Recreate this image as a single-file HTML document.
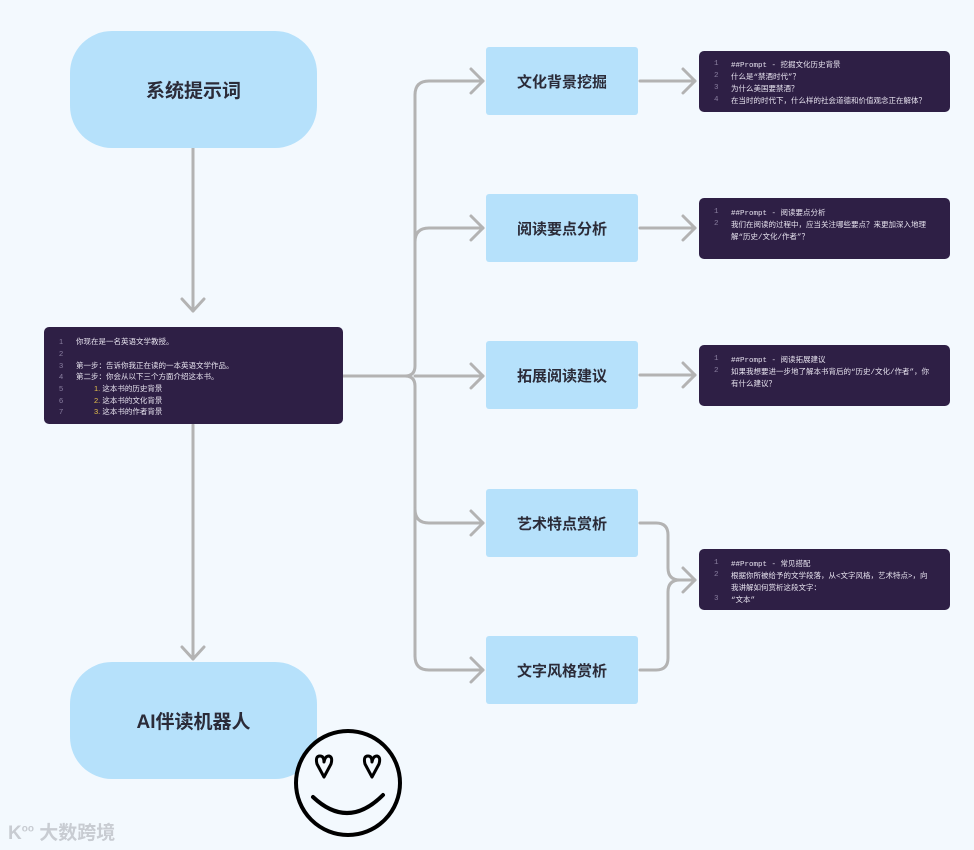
<!DOCTYPE html>
<html><head><meta charset="utf-8"><style>
body{margin:0;width:974px;height:850px;background:#f3f9fe;position:relative;overflow:hidden;font-family:"Liberation Sans","Noto Sans CJK SC",sans-serif}
.big{position:absolute;left:70px;width:247px;height:117px;background:#b6e1fb;border-radius:42px;display:flex;align-items:center;justify-content:center;font-weight:bold;font-size:19px;color:#2b2b38}
.mid{position:absolute;left:486px;width:152px;height:68px;background:#b6e1fb;border-radius:3px;display:flex;align-items:center;justify-content:center;font-weight:bold;font-size:15px;color:#2b2b38}
.code{position:absolute;background:#2e1f45;border-radius:5px;color:#e8e4f0;font-size:7.5px;box-sizing:border-box;font-family:"Liberation Mono","Noto Sans CJK SC",monospace}
.l{position:absolute;white-space:nowrap}
.n{position:absolute;color:#8a7fa0;white-space:nowrap}
.y{color:#e6c14a}
</style></head><body>
<svg width="974" height="850" style="position:absolute;left:0;top:0">
<g fill="none" stroke="#b3b3b3" stroke-width="3" stroke-linecap="round" stroke-linejoin="round">
<line x1="193" y1="148" x2="193" y2="311"/><polyline points="182,299 193,311 204,299"/>
<line x1="193" y1="425" x2="193" y2="659"/><polyline points="182,647 193,659 204,647"/>
<line x1="343" y1="376" x2="405" y2="376"/>
<path d="M415,95 Q415,81 429,81 L483,81"/>
<path d="M415,242 Q415,228 429,228 L483,228"/>
<path d="M405,376 Q415,376 415,366 L415,95 M405,376 Q415,376 415,386 L415,656"/>
<path d="M415,376 L483,376"/>
<path d="M415,509 Q415,523 429,523 L483,523"/>
<path d="M415,656 Q415,670 429,670 L483,670"/>
<polyline points="471,69 483,81 471,93"/><polyline points="471,216 483,228 471,240"/><polyline points="471,364 483,376 471,388"/><polyline points="471,511 483,523 471,535"/><polyline points="471,658 483,670 471,682"/>
<line x1="640" y1="81" x2="695" y2="81"/><polyline points="683,69 695,81 683,93"/>
<line x1="640" y1="228" x2="695" y2="228"/><polyline points="683,216 695,228 683,240"/>
<line x1="640" y1="375" x2="695" y2="375"/><polyline points="683,363 695,375 683,387"/>
<path d="M640,523 L656,523 Q668,523 668,535 L668,568 Q668,580 680,580 L695,580"/>
<path d="M640,670 L656,670 Q668,670 668,658 L668,592 Q668,580 680,580"/>
<polyline points="683,568 695,580 683,592"/>
</g>
</svg>
<div class="big" style="top:31px">系统提示词</div>
<div class="big" style="top:662px">AI伴读机器人</div>
<div class="mid" style="top:47px">文化背景挖掘</div>
<div class="mid" style="top:194px">阅读要点分析</div>
<div class="mid" style="top:341px">拓展阅读建议</div>
<div class="mid" style="top:489px">艺术特点赏析</div>
<div class="mid" style="top:636px">文字风格赏析</div>

<svg width="974" height="850" style="position:absolute;left:0;top:0">
<g stroke="#000" stroke-width="4" stroke-linecap="round">
<circle cx="348" cy="783" r="52" fill="#f3f9fe"/>
<path d="M313,797 Q348,830 383,795" fill="none"/>
<path d="M324,777 L317,764 Q315,756 320,756 Q324,756 324,762 Q325,756 329,756 Q333,757 331,764 Z" fill="none" stroke-width="3" stroke-linejoin="round"/>
<path d="M372,777 L365,764 Q363,756 368,756 Q372,756 372,762 Q373,756 377,756 Q381,757 379,764 Z" fill="none" stroke-width="3" stroke-linejoin="round"/>
</g>
</svg>

<div class="code" style="left:44px;top:327px;width:299px;height:97px;font-family:'Liberation Sans','Noto Sans CJK SC',sans-serif">
<span class="n" style="left:15px;top:10px">1</span><span class="l" style="left:32px;top:9px">你现在是一名英语文学教授。</span>
<span class="n" style="left:15px;top:22px">2</span>
<span class="n" style="left:15px;top:34px">3</span><span class="l" style="left:32px;top:33px">第一步：告诉你我正在读的一本英语文学作品。</span>
<span class="n" style="left:15px;top:45px">4</span><span class="l" style="left:32px;top:44px">第二步：你会从以下三个方面介绍这本书。</span>
<span class="n" style="left:15px;top:57px">5</span><span class="l" style="left:50px;top:56px"><span class="y">1.</span>  这本书的历史背景</span>
<span class="n" style="left:15px;top:69px">6</span><span class="l" style="left:50px;top:68px"><span class="y">2.</span>  这本书的文化背景</span>
<span class="n" style="left:15px;top:80px">7</span><span class="l" style="left:50px;top:79px"><span class="y">3.</span>  这本书的作者背景</span>
</div>

<div class="code" style="left:699px;top:51px;width:251px;height:61px">
<span class="n" style="left:15px;top:9px">1</span><span class="l" style="left:32px;top:8px">##Prompt - 挖掘文化历史背景</span>
<span class="n" style="left:15px;top:21px">2</span><span class="l" style="left:32px;top:20px">什么是“禁酒时代”？</span>
<span class="n" style="left:15px;top:33px">3</span><span class="l" style="left:32px;top:32px">为什么美国要禁酒？</span>
<span class="n" style="left:15px;top:45px">4</span><span class="l" style="left:32px;top:44px">在当时的时代下，什么样的社会道德和价值观念正在解体？</span>
</div>
<div class="code" style="left:699px;top:198px;width:251px;height:61px">
<span class="n" style="left:15px;top:10px">1</span><span class="l" style="left:32px;top:9px">##Prompt - 阅读要点分析</span>
<span class="n" style="left:15px;top:22px">2</span><span class="l" style="left:32px;top:21px">我们在阅读的过程中，应当关注哪些要点？来更加深入地理</span>
<span class="l" style="left:32px;top:33px">解“历史/文化/作者”？</span>
</div>
<div class="code" style="left:699px;top:345px;width:251px;height:61px">
<span class="n" style="left:15px;top:10px">1</span><span class="l" style="left:32px;top:9px">##Prompt - 阅读拓展建议</span>
<span class="n" style="left:15px;top:22px">2</span><span class="l" style="left:32px;top:21px">如果我想要进一步地了解本书背后的“历史/文化/作者”，你</span>
<span class="l" style="left:32px;top:33px">有什么建议？</span>
</div>
<div class="code" style="left:699px;top:549px;width:251px;height:61px">
<span class="n" style="left:15px;top:10px">1</span><span class="l" style="left:32px;top:9px">##Prompt - 常见搭配</span>
<span class="n" style="left:15px;top:22px">2</span><span class="l" style="left:32px;top:21px">根据你所被给予的文学段落，从&lt;文字风格，艺术特点&gt;，向</span>
<span class="l" style="left:32px;top:33px">我讲解如何赏析这段文字：</span>
<span class="n" style="left:15px;top:46px">3</span><span class="l" style="left:32px;top:45px">“文本”</span>
</div>

<div style="position:absolute;left:8px;top:818px;font-size:19px;color:#c8ccd2;font-weight:bold;white-space:nowrap">K<sup style="font-size:10px">oo</sup> 大数跨境</div>
</body></html>
